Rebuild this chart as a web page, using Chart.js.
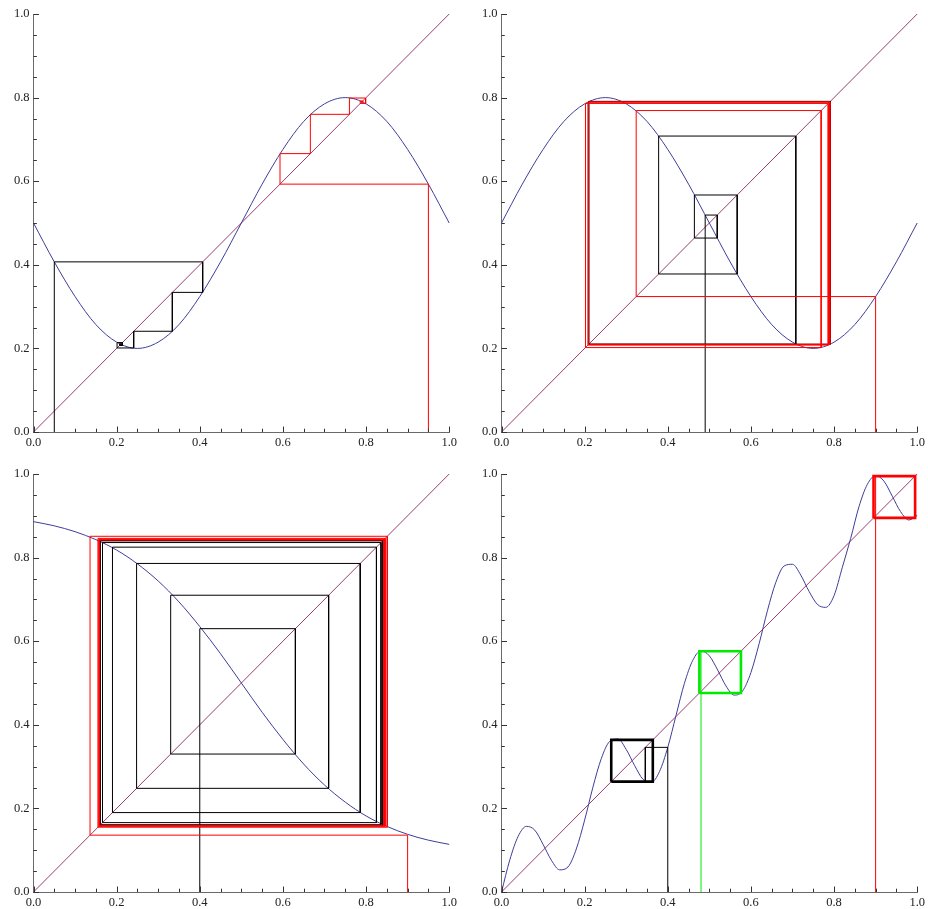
<!DOCTYPE html>
<html>
<head>
<meta charset="utf-8">
<script src="https://cdn.jsdelivr.net/npm/chart.js@4.4.0/dist/chart.umd.min.js"></script>
<style>
  html, body { margin: 0; padding: 0; background: #fff; overflow: hidden; width: 928px; height: 909px; }
  canvas { position: absolute; }
</style>
</head>
<body>
<canvas id="c1" width="460" height="450" style="left:0;top:0"></canvas>
<canvas id="c2" width="460" height="450" style="left:468px;top:0"></canvas>
<canvas id="c3" width="460" height="450" style="left:0;top:460px"></canvas>
<canvas id="c4" width="460" height="450" style="left:468px;top:460px"></canvas>
<script>
// tick labels shared by all four panels
const tickLabels = ['0.0', '0.2', '0.4', '0.6', '0.8', '1.0'];
const diagonal = [0, 1];

// map curves
const gridX = [0, 0.05, 0.1, 0.15, 0.2, 0.25, 0.3, 0.35, 0.4, 0.45, 0.5,
               0.55, 0.6, 0.65, 0.7, 0.75, 0.8, 0.85, 0.9, 0.95, 1];
const curve1 = [0.500, 0.407, 0.324, 0.257, 0.215, 0.200, 0.215, 0.257, 0.324, 0.407, 0.500,
                0.593, 0.676, 0.743, 0.785, 0.800, 0.785, 0.743, 0.676, 0.593, 0.500];
const curve2 = [0.500, 0.593, 0.676, 0.743, 0.785, 0.800, 0.785, 0.743, 0.676, 0.593, 0.500,
                0.407, 0.324, 0.257, 0.215, 0.200, 0.215, 0.257, 0.324, 0.407, 0.500];
const curve3 = [0.886, 0.876, 0.862, 0.843, 0.818, 0.785, 0.744, 0.694, 0.635, 0.570, 0.500,
                0.430, 0.365, 0.306, 0.256, 0.215, 0.182, 0.157, 0.138, 0.124, 0.114];
const gridX4 = [0, 0.02, 0.04, 0.06, 0.08, 0.1, 0.12, 0.14, 0.16, 0.18, 0.2,
                0.22, 0.24, 0.26, 0.28, 0.3, 0.32, 0.34, 0.36, 0.38, 0.4,
                0.42, 0.44, 0.46, 0.48, 0.5, 0.52, 0.54, 0.56, 0.58, 0.6,
                0.62, 0.64, 0.66, 0.68, 0.7, 0.72, 0.74, 0.76, 0.78, 0.8,
                0.82, 0.84, 0.86, 0.88, 0.9, 0.92, 0.94, 0.96, 0.98, 1];
const curve4 = [0.000, 0.077, 0.133, 0.157, 0.148, 0.114, 0.076, 0.053, 0.060, 0.103, 0.172,
                0.251, 0.319, 0.360, 0.366, 0.341, 0.303, 0.270, 0.262, 0.288, 0.346,
                0.423, 0.499, 0.554, 0.577, 0.565, 0.531, 0.493, 0.471, 0.481, 0.525,
                0.595, 0.674, 0.741, 0.780, 0.784, 0.758, 0.719, 0.688, 0.681, 0.709,
                0.777, 0.846, 0.922, 0.975, 0.996, 0.983, 0.947, 0.910, 0.890, 0.901];

// orbits (successive iterates)
const p1Black = [0.05, 0.407, 0.334, 0.241, 0.201, 0.214, 0.207, 0.211, 0.209];
const p1Red = [0.95, 0.593, 0.666, 0.760, 0.799, 0.786, 0.792, 0.789, 0.790];
const p2Black = [0.49, 0.519, 0.464, 0.567, 0.378, 0.708, 0.210, 0.791, 0.210, 0.790];
const p2Red = [0.90, 0.324, 0.769, 0.202, 0.786, 0.208, 0.789, 0.209, 0.790, 0.210];
const p3Black = [0.40, 0.630, 0.330, 0.710, 0.248, 0.786, 0.190, 0.825, 0.166, 0.836, 0.161, 0.840, 0.159, 0.841];
const p3Red = [0.90, 0.136, 0.851, 0.155, 0.846, 0.157, 0.844, 0.158, 0.843, 0.159, 0.842];
const p4Black = [0.40, 0.346, 0.264];
const p4BlackCycle = [0.264, 0.364];
const p4Green = [0.48, 0.577, 0.476];
const p4GreenCycle = [0.476, 0.576];
const p4Red = [0.90, 0.996, 0.895];
const p4RedCycle = [0.895, 0.995];

const CURVE = 'rgb(61,61,153)';
const DIAG = 'rgb(153,61,113)';
const RED = 'rgb(255,0,0)';
const GREEN = 'rgb(0,235,0)';
const BLACK = '#000';

function cobweb(orbit) {
  const pts = [{ x: orbit[0], y: 0 }];
  for (let i = 0; i < orbit.length - 1; i++) {
    pts.push({ x: orbit[i], y: orbit[i + 1] });
    pts.push({ x: orbit[i + 1], y: orbit[i + 1] });
  }
  return pts;
}

function cycleBox(c) {
  const lo = Math.min(c[0], c[1]), hi = Math.max(c[0], c[1]);
  return [{ x: lo, y: lo }, { x: lo, y: hi }, { x: hi, y: hi }, { x: hi, y: lo }, { x: lo, y: lo }];
}

function zip(xs, ys) {
  return xs.map((x, i) => ({ x: x, y: ys[i] }));
}

function lineSet(data, color, width, order, smooth) {
  return {
    data: data,
    showLine: true,
    borderColor: color,
    borderWidth: width,
    pointRadius: 0,
    fill: false,
    tension: 0,
    cubicInterpolationMode: smooth ? 'monotone' : 'default',
    clip: false,
    order: order
  };
}

const labelFont = { family: "'Liberation Serif', 'Times New Roman', serif", size: 12.5 };

function axisScale(axis) {
  return {
    type: 'linear',
    min: 0,
    max: 1,
    grid: { display: false, drawTicks: false },
    border: { display: true, color: '#6a6a6a', width: 1 },
    ticks: {
      stepSize: 0.2,
      padding: axis === 'x' ? 3 : 4,
      color: '#222',
      font: labelFont,
      maxRotation: 0,
      autoSkip: false,
      callback: (v, i) => tickLabels[i]
    },
    afterFit: s => {
      if (axis === 'x') s.height = 18;
      else s.width = 33.5;
    }
  };
}

// Mathematica-style ticks pointing into the plot
const inwardTicks = {
  id: 'inwardTicks',
  afterDraw(chart) {
    const { ctx, chartArea: a, scales: { x, y } } = chart;
    ctx.save();
    ctx.strokeStyle = '#333';
    ctx.lineWidth = 1;
    ctx.beginPath();
    for (let i = 0; i <= 20; i++) {
      const len = i % 4 === 0 ? 5.5 : 3.3;
      const px = Math.round(x.getPixelForValue(i / 20)) + 0.5;
      ctx.moveTo(px, a.bottom);
      ctx.lineTo(px, a.bottom - len);
      const py = Math.round(y.getPixelForValue(i / 20)) + 0.5;
      ctx.moveTo(a.left, py);
      ctx.lineTo(a.left + len, py);
    }
    ctx.stroke();
    ctx.restore();
  }
};

function makePanel(id, datasets) {
  new Chart(document.getElementById(id), {
    type: 'scatter',
    data: { datasets: datasets },
    options: {
      responsive: false,
      animation: false,
      layout: { padding: { top: 14, right: 10, left: 0, bottom: 0 } },
      plugins: { legend: { display: false }, tooltip: { enabled: false } },
      scales: { x: axisScale('x'), y: axisScale('y') }
    },
    plugins: [inwardTicks]
  });
}

const diagPts = zip(diagonal, diagonal);

makePanel('c1', [
  lineSet(cobweb(p1Red), RED, 1, 0),
  lineSet(cobweb(p1Black), BLACK, 1, 1),
  lineSet(zip(gridX, curve1), CURVE, 1, 2, true),
  lineSet(diagPts, DIAG, 1, 3)
]);

makePanel('c2', [
  lineSet(cobweb(p2Red), RED, 1, 0),
  lineSet(cobweb(p2Black), BLACK, 1, 1),
  lineSet(zip(gridX, curve2), CURVE, 1, 2, true),
  lineSet(diagPts, DIAG, 1, 3)
]);

makePanel('c3', [
  lineSet(cobweb(p3Red), RED, 1, 0),
  lineSet(cobweb(p3Black), BLACK, 1, 1),
  lineSet(zip(gridX, curve3), CURVE, 1, 2, true),
  lineSet(diagPts, DIAG, 1, 3)
]);

makePanel('c4', [
  lineSet(cycleBox(p4RedCycle), RED, 2.6, 0),
  lineSet(cobweb(p4Red), RED, 1, 0),
  lineSet(cycleBox(p4GreenCycle), GREEN, 2.6, 1),
  lineSet(cobweb(p4Green), GREEN, 1, 1),
  lineSet(cycleBox(p4BlackCycle), BLACK, 2.6, 1),
  lineSet(cobweb(p4Black), BLACK, 1, 1),
  lineSet(zip(gridX4, curve4), CURVE, 1, 2, true),
  lineSet(diagPts, DIAG, 1, 3)
]);
</script>
</body>
</html>
